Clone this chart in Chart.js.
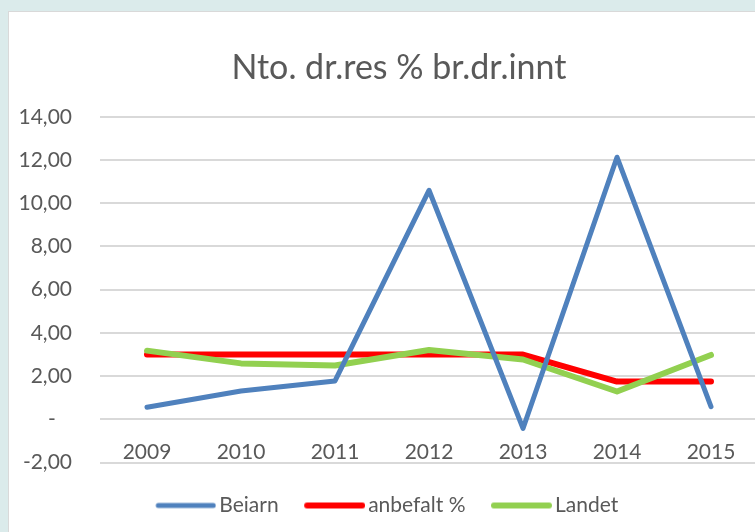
<!DOCTYPE html>
<html>
<head>
<meta charset="utf-8">
<script src="https://cdn.jsdelivr.net/npm/chart.js@4.4.1/dist/chart.umd.min.js"></script>
<style>
  html, body { margin: 0; padding: 0; overflow: hidden; }
  body { width: 755px; height: 532px; background: #dbebeb; position: relative; }
  #card { position: absolute; left: 8px; top: 11px; width: 780px; height: 560px;
          background: #fff; border: 1px solid #d9d9d9; }
  #chart { display: block; }
</style>
</head>
<body>
<div id="card"><canvas id="chart" width="780" height="560"></canvas></div>
<script>
// Kategorier (år)
const years = ['2009', '2010', '2011', '2012', '2013', '2014', '2015'];

// Serier
const beiarn = [0.56, 1.31, 1.78, 10.6, -0.42, 12.13, 0.59];
const anbefalt = [3.0, 3.0, 3.0, 3.0, 3.0, 1.75, 1.75];
const landet = [3.18, 2.59, 2.49, 3.21, 2.77, 1.29, 2.98];

// Y-akse
const yMin = -2;
const yMax = 14;
const yStep = 2;

const textColor = '#595959';
const gridColor = '#d9d9d9';
const colors = ['#4f81bd', '#ff0000', '#92d050'];

// norsk tallformat, null vises som "-"
function formatTick(v) {
    if (v === 0) return '-   ';
    return v.toFixed(2).replace('.', ',');
}

// strek-symbol til forklaringen (tettere inntil teksten enn standard)
function legendIcon(color, width) {
    const c = document.createElement('canvas');
    c.width = 70;
    c.height = 12;
    const g = c.getContext('2d');
    g.strokeStyle = color;
    g.lineWidth = width;
    g.lineCap = 'round';
    g.beginPath();
    g.moveTo(12, 6);
    g.lineTo(67, 6);
    g.stroke();
    return c;
}
const legendIcons = [legendIcon(colors[0], 5), legendIcon(colors[1], 6), legendIcon(colors[2], 6)];

// flytt forklaringen litt til venstre
const legendShift = {
    id: 'legendShift',
    afterLayout(chart) {
        chart.legend.left -= 13;
        chart.legend.right -= 13;
    }
};

const ctx = document.getElementById('chart').getContext('2d');

const chart = new Chart(ctx, {
    type: 'line',
    data: {
        labels: years,
        datasets: [
            {
                label: 'Beiarn',
                data: beiarn,
                borderColor: colors[0],
                backgroundColor: colors[0],
                borderWidth: 5,
                order: 0
            },
            {
                label: 'anbefalt %',
                data: anbefalt,
                borderColor: colors[1],
                backgroundColor: colors[1],
                borderWidth: 6,
                order: 2
            },
            {
                label: 'Landet',
                data: landet,
                borderColor: colors[2],
                backgroundColor: colors[2],
                borderWidth: 6,
                order: 1
            }
        ]
    },
    plugins: [legendShift],
    options: {
        responsive: false,
        animation: false,
        layout: {
            padding: { left: 0, right: 0, top: 0, bottom: 46 }
        },
        elements: {
            point: { radius: 0, hoverRadius: 0 },
            line: { tension: 0, borderCapStyle: 'round', borderJoinStyle: 'round', fill: false }
        },
        plugins: {
            title: {
                display: true,
                text: 'Nto. dr.res % br.dr.innt',
                color: textColor,
                font: { family: 'Lato', size: 34, weight: 'normal' },
                padding: { top: 36, bottom: 28 }
            },
            legend: {
                display: true,
                position: 'bottom',
                // tom tittel gir litt ekstra luft over forklaringen
                title: { display: true, text: ' ', font: { size: 7 }, padding: 0 },
                labels: {
                    usePointStyle: true,
                    pointStyleWidth: 55,
                    color: textColor,
                    font: { family: 'Lato', size: 21 },
                    padding: 24,
                    sort: (a, b) => a.datasetIndex - b.datasetIndex,
                    generateLabels: (chart) => Chart.defaults.plugins.legend.labels.generateLabels(chart)
                        .map(item => Object.assign(item, { pointStyle: legendIcons[item.datasetIndex] }))
                }
            },
            tooltip: { enabled: false }
        },
        scales: {
            x: {
                position: { y: 0 },
                offset: true,
                grid: { display: false, drawTicks: false, offset: true },
                border: { display: false },
                ticks: {
                    color: textColor,
                    font: { family: 'Lato', size: 21 },
                    padding: 20,
                    maxRotation: 0
                }
            },
            y: {
                min: yMin,
                max: yMax,
                afterFit: (scale) => { scale.width = 91; },
                grid: { color: gridColor, lineWidth: 2, drawTicks: false },
                border: { display: false },
                ticks: {
                    stepSize: yStep,
                    color: textColor,
                    font: { family: 'Lato', size: 21 },
                    padding: 28,
                    callback: (v) => formatTick(v)
                }
            },
            // usynlig høyreakse, holder plass til høyre for plottet
            yRight: {
                position: 'right',
                afterFit: (scale) => { scale.width = 31; },
                grid: { display: false, drawTicks: false },
                border: { display: false },
                ticks: { display: false }
            }
        }
    }
});
</script>
</body>
</html>
